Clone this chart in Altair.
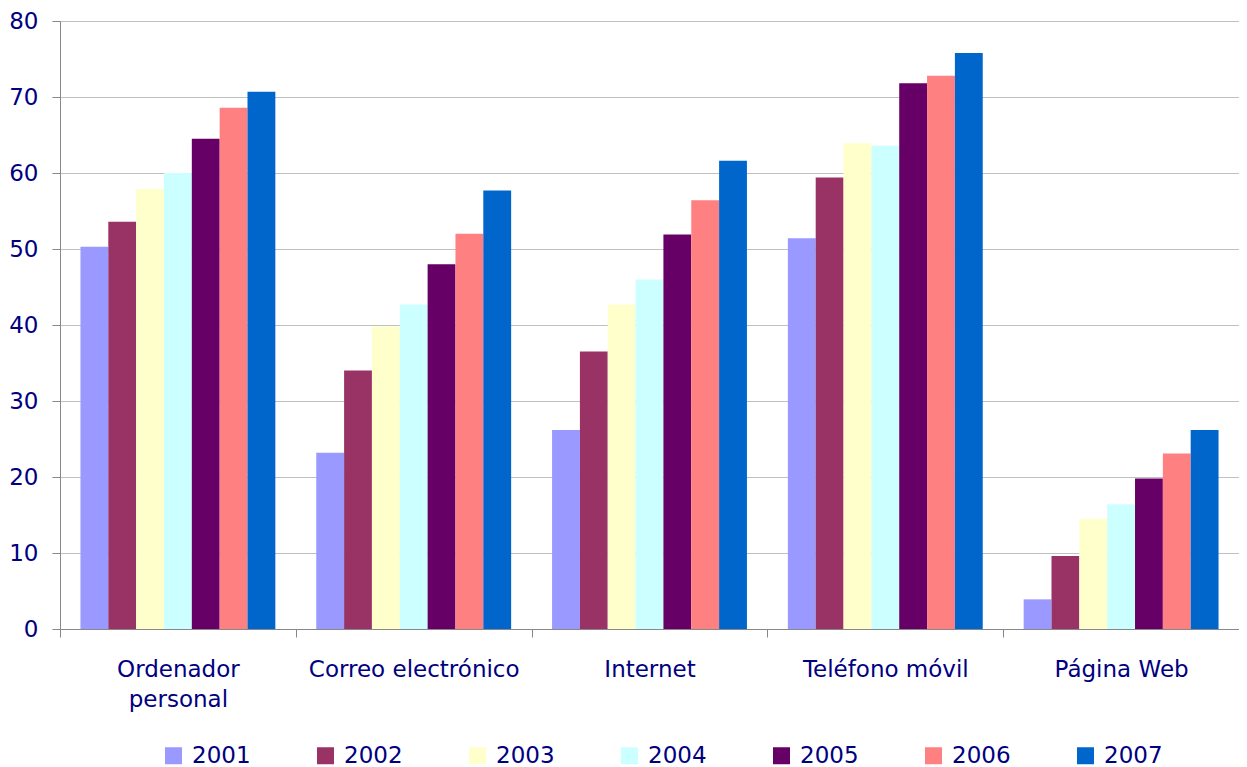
import altair as alt
import pandas as pd

categories = ["Ordenador personal", "Correo electrónico", "Internet", "Teléfono móvil", "Página Web"]
years = ["2001", "2002", "2003", "2004", "2005", "2006", "2007"]
v2001 = [50.3, 23.2, 26.2, 51.4, 3.9]
v2002 = [53.6, 34.0, 36.5, 59.4, 9.6]
v2003 = [57.9, 39.8, 42.7, 63.9, 14.5]
v2004 = [60.0, 42.7, 46.0, 63.6, 16.4]
v2005 = [64.5, 48.0, 51.9, 71.8, 19.8]
v2006 = [68.6, 52.0, 56.4, 72.8, 23.1]
v2007 = [70.7, 57.7, 61.6, 75.8, 26.2]
colors = ["#9999FF", "#993366", "#FFFFCC", "#CCFFFF", "#660066", "#FF8080", "#0066CC"]

series = [v2001, v2002, v2003, v2004, v2005, v2006, v2007]
rows = []
for y, vals in zip(years, series):
    for c, v in zip(categories, vals):
        rows.append({"categoria": c, "anio": y, "valor": v})
df = pd.DataFrame(rows)

FONT = "DejaVu Sans"
TXT = "#000080"

chart = alt.Chart(df).mark_bar().encode(
    x=alt.X("categoria:N", sort=categories,
            scale=alt.Scale(paddingInner=0, paddingOuter=0),
            axis=alt.Axis(title=None, labelAngle=0, tickBand="extent",
                          labelExpr="datum.label == 'Ordenador personal' ? ['Ordenador', 'personal'] : datum.label",
                          labelFont=FONT, labelFontSize=23, labelColor=TXT,
                          labelLineHeight=30, labelPadding=21, labelLimit=400,
                          tickSize=8, tickColor="#888888", domainColor="#888888",
                          grid=False)),
    xOffset=alt.XOffset("anio:N", sort=years,
                        scale=alt.Scale(paddingInner=0, paddingOuter=0.735)),
    y=alt.Y("valor:Q", scale=alt.Scale(domain=[0, 80], nice=False),
            axis=alt.Axis(title=None, values=list(range(0, 81, 10)),
                          labelFont=FONT, labelFontSize=23, labelColor=TXT,
                          labelPadding=14, tickSize=8, tickColor="#888888",
                          domainColor="#888888", gridColor="#c0c0c0")),
    color=alt.Color("anio:N", sort=years,
                    scale=alt.Scale(domain=years, range=colors),
                    legend=alt.Legend(title=None, orient="none", direction="horizontal",
                                      legendX=102, legendY=723,
                                      symbolType="square",
                                      symbolSize=289, symbolStrokeWidth=0,
                                      labelFont=FONT, labelFontSize=23, labelColor=TXT,
                                      labelLimit=200,
                                      labelOffset=7, columnPadding=63)),
).properties(
    width=1179, height=608,
    padding={"left": 52, "top": 13, "right": 0, "bottom": 138},
    autosize="none",
).configure_view(stroke=None)

chart.save("out.html", embed_options={"renderer": "svg", "actions": False})
